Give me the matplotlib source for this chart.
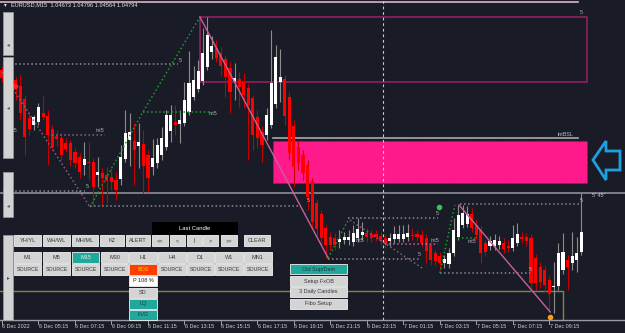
import numpy as np
import pandas as pd
import matplotlib
matplotlib.use("Agg")
import matplotlib.pyplot as plt
from matplotlib.patches import Rectangle, Polygon

plt.rcParams['font.family'] = ['Liberation Sans', 'DejaVu Sans']

# EURUSD M15 candles from 6 Dec 2022 03:15
opens = [1.05440, 1.05408, 1.05384, 1.05400, 1.05376, 1.05324, 1.05248, 1.05220, 1.05232, 1.05268,
         1.05256, 1.05204, 1.05176, 1.05168, 1.05148, 1.05148, 1.05112, 1.05092, 1.05060, 1.05072,
         1.05072, 1.05020, 1.05028, 1.05020, 1.05012, 1.05000, 1.05004, 1.05084, 1.05160, 1.05156,
         1.05136, 1.05144, 1.05100, 1.05052, 1.05068, 1.05100, 1.05132, 1.05196, 1.05232, 1.05224,
         1.05228, 1.05272, 1.05332, 1.05364, 1.05396, 1.05452, 1.05512, 1.05528, 1.05508, 1.05484,
         1.05448, 1.05396, 1.05404, 1.05392, 1.05368, 1.05328, 1.05252, 1.05192, 1.05180, 1.05220,
         1.05304, 1.05392, 1.05404, 1.05332, 1.05216, 1.05132, 1.05100, 1.05060, 1.04996, 1.04908,
         1.04864, 1.04808, 1.04772, 1.04768, 1.04752, 1.04760, 1.04760, 1.04752, 1.04768, 1.04780,
         1.04788, 1.04784, 1.04784, 1.04776, 1.04768, 1.04756, 1.04764, 1.04764, 1.04764, 1.04772,
         1.04780, 1.04784, 1.04780, 1.04768, 1.04740, 1.04708, 1.04696, 1.04668, 1.04664, 1.04708,
         1.04772, 1.04820, 1.04824, 1.04864, 1.04820, 1.04800, 1.04748, 1.04736, 1.04736, 1.04740,
         1.04748, 1.04736, 1.04728, 1.04748, 1.04772, 1.04772, 1.04768, 1.04688, 1.04652, 1.04640,
         1.04600, 1.04572, 1.04576, 1.04640, 1.04680, 1.04668, 1.04680, 1.04712]
highs = [1.05456, 1.05424, 1.05416, 1.05412, 1.05420, 1.05340, 1.05272, 1.05260, 1.05308, 1.05336,
         1.05280, 1.05220, 1.05200, 1.05188, 1.05168, 1.05160, 1.05128, 1.05108, 1.05152, 1.05152,
         1.05088, 1.05092, 1.05048, 1.05052, 1.05048, 1.05032, 1.05140, 1.05280, 1.05268, 1.05228,
         1.05228, 1.05200, 1.05120, 1.05164, 1.05168, 1.05212, 1.05280, 1.05300, 1.05300, 1.05280,
         1.05392, 1.05516, 1.05456, 1.05480, 1.05608, 1.05652, 1.05576, 1.05560, 1.05532, 1.05500,
         1.05472, 1.05468, 1.05432, 1.05428, 1.05384, 1.05340, 1.05280, 1.05216, 1.05288, 1.05600,
         1.05540, 1.05524, 1.05420, 1.05352, 1.05240, 1.05160, 1.05120, 1.05080, 1.05008, 1.04920,
         1.04880, 1.04820, 1.04792, 1.04788, 1.04800, 1.04792, 1.04800, 1.04820, 1.04848, 1.04832,
         1.04808, 1.04800, 1.04800, 1.04792, 1.04784, 1.04788, 1.04816, 1.04820, 1.04820, 1.04824,
         1.04808, 1.04800, 1.04800, 1.04784, 1.04752, 1.04720, 1.04712, 1.04700, 1.04728, 1.04848,
         1.04900, 1.04900, 1.04896, 1.04888, 1.04840, 1.04816, 1.04760, 1.04776, 1.04784, 1.04776,
         1.04768, 1.04760, 1.04820, 1.04828, 1.04792, 1.04788, 1.04784, 1.04704, 1.04672, 1.04656,
         1.04616, 1.04672, 1.04748, 1.04788, 1.04700, 1.04792, 1.04772, 1.04948]
lows = [1.05392, 1.05368, 1.05352, 1.05320, 1.05240, 1.05100, 1.05180, 1.05200, 1.05220, 1.05240,
        1.05060, 1.05120, 1.05136, 1.05080, 1.05112, 1.05056, 1.05048, 1.05008, 1.05020, 1.05000,
        1.04896, 1.04972, 1.04900, 1.04908, 1.04960, 1.04920, 1.04980, 1.05072, 1.05056, 1.04980,
        1.05048, 1.04948, 1.04952, 1.05020, 1.05048, 1.05080, 1.05120, 1.05152, 1.05180, 1.05148,
        1.05216, 1.05260, 1.05320, 1.05352, 1.05380, 1.05440, 1.05484, 1.05472, 1.05416, 1.05332,
        1.05268, 1.05320, 1.05292, 1.05288, 1.05080, 1.05120, 1.05128, 1.05072, 1.05160, 1.05208,
        1.05288, 1.05312, 1.05220, 1.05080, 1.04972, 1.05040, 1.05000, 1.04880, 1.04808, 1.04776,
        1.04740, 1.04688, 1.04720, 1.04720, 1.04728, 1.04744, 1.04740, 1.04736, 1.04752, 1.04760,
        1.04752, 1.04752, 1.04756, 1.04740, 1.04728, 1.04736, 1.04748, 1.04752, 1.04752, 1.04756,
        1.04760, 1.04756, 1.04732, 1.04668, 1.04660, 1.04656, 1.04640, 1.04648, 1.04648, 1.04696,
        1.04760, 1.04808, 1.04812, 1.04792, 1.04760, 1.04668, 1.04696, 1.04720, 1.04720, 1.04724,
        1.04708, 1.04712, 1.04716, 1.04736, 1.04748, 1.04736, 1.04552, 1.04560, 1.04568, 1.04552,
        1.04472, 1.04468, 1.04560, 1.04624, 1.04560, 1.04640, 1.04632, 1.04700]
closes = [1.05408, 1.05384, 1.05400, 1.05368, 1.05268, 1.05172, 1.05204, 1.05252, 1.05292, 1.05252,
          1.05180, 1.05132, 1.05164, 1.05100, 1.05124, 1.05080, 1.05068, 1.05032, 1.05084, 1.05068,
          1.04972, 1.05032, 1.05008, 1.04996, 1.04992, 1.04960, 1.05092, 1.05188, 1.05192, 1.05120,
          1.05152, 1.05056, 1.05008, 1.05088, 1.05140, 1.05168, 1.05260, 1.05260, 1.05220, 1.05240,
          1.05320, 1.05388, 1.05400, 1.05436, 1.05508, 1.05580, 1.05536, 1.05488, 1.05456, 1.05412,
          1.05352, 1.05408, 1.05372, 1.05340, 1.05300, 1.05180, 1.05168, 1.05140, 1.05260, 1.05388,
          1.05492, 1.05412, 1.05256, 1.05108, 1.05052, 1.05068, 1.05028, 1.04932, 1.04832, 1.04804,
          1.04768, 1.04740, 1.04740, 1.04740, 1.04764, 1.04772, 1.04772, 1.04788, 1.04804, 1.04792,
          1.04772, 1.04768, 1.04772, 1.04756, 1.04744, 1.04768, 1.04784, 1.04784, 1.04784, 1.04788,
          1.04776, 1.04772, 1.04748, 1.04716, 1.04680, 1.04676, 1.04668, 1.04684, 1.04708, 1.04800,
          1.04860, 1.04868, 1.04864, 1.04808, 1.04780, 1.04708, 1.04712, 1.04756, 1.04760, 1.04756,
          1.04724, 1.04728, 1.04768, 1.04784, 1.04764, 1.04756, 1.04588, 1.04588, 1.04592, 1.04580,
          1.04544, 1.04576, 1.04708, 1.04712, 1.04652, 1.04696, 1.04708, 1.04792]

# zones (bar from, bar to, price low, price high)
supply_box = (43.4, 128.3, 1.05392, 1.05652)
sd_zone = (59.4, 128.3, 1.04988, 1.05156)
bsl_level = 1.05168
range_line = 1.04948
olive_top, olive_right = 1.04556, 123.0
day_sep = 83.5

# structure lines: (bars, prices, colour, style)
green, mauve, grey, pink = '#1f9a2e', '#8e5a84', '#8a8a94', '#c8609e'
struct_lines = [
    ([0.2, 38.6], [1.05464, 1.05464], grey, ':'),
    ([19.3, 30.9, 43.4], [1.04892, 1.05272, 1.05652], green, ':'),
    ([30.9, 45.6], [1.05272, 1.05272], green, ':'),
    ([0.0, 19.3], [1.05432, 1.04892], mauve, ':'),
    ([11.0, 22.6], [1.05180, 1.05180], mauve, ':'),
    ([0.2, 18.2], [1.04956, 1.04956], grey, ':'),
    ([19.3, 65.4], [1.04896, 1.04896], grey, ':'),
    ([43.4, 71.5], [1.05652, 1.04688], pink, '-'),
    ([71.5, 75.9], [1.04688, 1.04840], green, ':'),
    ([75.9, 95.6], [1.04848, 1.04848], grey, ':'),
    ([76.3, 92.1], [1.04840, 1.04648], mauve, ':'),
    ([84.0, 95.6], [1.04744, 1.04744], pink, ':'),
    ([71.5, 91.7], [1.04684, 1.04684], grey, ':'),
    ([96.0, 115.8], [1.04628, 1.04628], grey, ':'),
    ([96.0, 99.3], [1.04628, 1.04900], green, ':'),
    ([100.0, 104.4], [1.04768, 1.04768], green, ':'),
    ([100.2, 120.2], [1.04900, 1.04472], pink, '-'),
    ([100.4, 126.8], [1.04904, 1.04904], grey, ':'),
]
struct_labels = [(39.0, 1.05476, '5'), (46.3, 1.05264, 'int5'), (21.5, 1.05196, 'int5'),
                 (18.6, 1.04972, '5'), (67.1, 1.04916, '5'), (95.4, 1.04864, '5'),
                 (94.9, 1.04756, 'int5'), (91.4, 1.04700, '5'), (115.8, 1.04640, '5'),
                 (103.1, 1.04752, 'int5'), (127.0, 1.04920, '5'), (127.0, 1.05668, '5'),
                 (78.5, 1.04756, 'int5'), (2.4, 1.05196, 'int5')]
pivots = [(95.8, 1.04892, '#2ecc40'), (120.2, 1.04452, '#f5a020'), (2.85, 1.05376, '#ff2020')]

BG = '#191c26'
W, H = 625, 333

fig = plt.figure(figsize=(6.25, 3.33), dpi=100, facecolor=BG)
ax = fig.add_axes([0, 13 / H, 1, 320 / H])
ax.set_facecolor(BG)
ax.set_xlim(-0.44, 136.6)
ax.set_ylim(1.0444, 1.0572)
ax.axis('off')

# zones
x0, x1, y0, y1 = sd_zone
ax.add_patch(Rectangle((x0, y0), x1 - x0, y1 - y0, facecolor='#ff1a8c', edgecolor='#c0106a',
                       lw=0.8, ls=':', zorder=1))
ax.plot([x0, 126.3], [bsl_level, bsl_level], color='#a8a8b0', lw=1.2, zorder=2)
ax.text(125.2, bsl_level + 0.00003, 'intBSL', color='#b8b8c0', fontsize=3.9, ha='right', va='bottom', zorder=6)
x0, x1, y0, y1 = supply_box
ax.add_patch(Rectangle((x0, y0), x1 - x0, y1 - y0, facecolor='none', edgecolor='#9c1f66', lw=1.1, zorder=2))
ax.plot([-0.44, 136.6], [range_line, range_line], color='#8e8e96', lw=1.2, zorder=2)
ax.plot([-0.44, olive_right, olive_right], [olive_top, olive_top, 1.0444], color='#7d8a3a', lw=1.0, zorder=2)
ax.plot([-0.44, 126.3], [1.05712, 1.05712], color='#e0b4c4', lw=1.2, zorder=2)
ax.axvline(day_sep, color='#c8c8cc', lw=0.8, ls=(0, (2.5, 2.5)), zorder=2)

# candles
o, h, l, c = map(np.array, (opens, highs, lows, closes))
idx = np.arange(len(o))
up = c >= o
ax.vlines(idx[up], l[up], h[up], color='#8c8c8c', lw=0.8, zorder=3)
ax.vlines(idx[~up], l[~up], h[~up], color='#c40000', lw=0.8, zorder=3)
body_lo = np.minimum(o, c)
body_h = np.maximum(np.abs(c - o), 0.00004)
ax.bar(idx[up], body_h[up], bottom=body_lo[up], width=0.68, color='white', lw=0, zorder=4)
ax.bar(idx[~up], body_h[~up], bottom=body_lo[~up], width=0.68, color='#ff0000', lw=0, zorder=4)

# structure
for xs, ys, col, st in struct_lines:
    ax.plot(xs, ys, color=col, lw=1.0 if st == '-' else 1.1, ls=st, zorder=5)
for bx, py, txt in struct_labels:
    ax.text(bx, py, txt, color='#b4b4bc', fontsize=3.8, ha='center', va='center', zorder=6)
for bx, py, col in pivots:
    ax.scatter([bx], [py], s=16, color=col, zorder=6, linewidths=0)

# time axis
times = pd.date_range('2022-12-06 03:15', periods=len(o), freq='15min')
tr = ax.get_xaxis_transform()
for i in range(0, len(o), 8):
    t = times[i]
    lab = '6 Dec 2022' if i == 0 else f'{t.day} Dec {t:%H:%M}'
    ax.plot([i, i], [0, -0.011], color='#a0a0a8', lw=0.7, transform=tr, clip_on=False)
    ax.text(i + 0.1, -0.019, lab, color='#d0d0d6', fontsize=3.9, ha='left', va='center',
            transform=tr, clip_on=False)
fig.add_artist(plt.Line2D([0, 1], [13 / H, 13 / H], color='#9a9aa2', lw=1.0))


def fx(x):
    return x / W


def fy(y):
    return 1 - y / H


def box(x0, y0, x1, y1, bg, ec='#f2f2f2', lw=0.6):
    fig.add_artist(Rectangle((fx(x0), fy(y1)), (x1 - x0) / W, (y1 - y0) / H,
                             transform=fig.transFigure, facecolor=bg, edgecolor=ec, lw=lw, zorder=10))


def button(x0, y0, x1, y1, label, bg='#d4d4d4', fg='#383838', size=4.0):
    box(x0, y0, x1, y1, bg)
    fig.text(fx((x0 + x1) / 2), fy((y0 + y1) / 2), label, color=fg, fontsize=size,
             ha='center', va='center', zorder=11)


# header
fig.text(fx(4), fy(5), '\u25be', color='#e8e8e8', fontsize=4.0, va='center', zorder=11,
         family='DejaVu Sans')
fig.text(fx(11), fy(5), 'EURUSD,M15  1.04673 1.04796 1.04564 1.04794', color='#e6e6ea',
         fontsize=4.1, va='center', zorder=11)

# left strip
for y0, y1, glyph in [(12, 55, '\u25c2'), (57, 158, '\u25c2'), (172, 217, '\u25c2'), (235, 320, '\u25b8')]:
    box(3, y0, 13, y1, '#d2d2d2', ec='#9a9a9a', lw=0.5)
    fig.text(fx(8), fy(y0 + 0.75 * (y1 - y0) if glyph == '\u25c2' and y1 - y0 < 60 else (y0 + y1) / 2),
             glyph, color='#505050', fontsize=4, ha='center', va='center', zorder=11, family='DejaVu Sans')

# button panel
box(152, 222, 237, 234, '#000000', ec='#000000')
fig.text(fx(194.5), fy(228), 'Last Candle', color='white', fontsize=4.2, ha='center', va='center', zorder=11)
row1 = [(14, 41, 'YH/YL'), (43, 70, 'WH/WL'), (72, 98, 'MH/ML'), (100, 124, 'KZ'), (126, 150, 'ALERT'),
        (152, 168, '<<'), (170, 185, '<'), (187, 202, '|'), (203, 218, '>'), (221, 237, '>>'),
        (244, 270, 'CLEAR')]
for a, b, t in row1:
    button(a, 235, b, 246, t)
tfs = ['M1', 'M5', 'M15', 'M30', 'H1', 'H4', 'D1', 'W1', 'MN1']
tf_x = [(14, 41), (43, 70), (72, 99), (101, 128), (129, 157), (158, 186), (187, 214), (215, 243), (244, 272)]
for (a, b), t in zip(tf_x, tfs):
    if t == 'M15':
        button(a, 252, b, 263, t, bg='#1fa89b', fg='#e4f4f2')
    else:
        button(a, 252, b, 263, t)
    if t == 'H1':
        button(a, 264, b, 275, 'BOS', bg='#ff3d00', fg='#ffc800')
    else:
        button(a, 264, b, 275, 'SOURCE', size=3.8)
button(129, 276, 157, 286, 'P 108 %', bg='#ffffff', fg='#202020')
button(129, 288, 157, 298, 'SD')
button(129, 299, 157, 309, 'LQ', bg='#1fa89b', fg='#204040')
button(129, 310, 157, 320, 'FVG', bg='#1fa89b', fg='#204040')
button(290, 264, 347, 274, 'Old Sup/Dem', bg='#1fa89b', fg='#1c3a3a')
button(290, 276, 347, 286, 'Setup FxOB')
button(290, 287, 347, 297, '3 Daily Candles')
button(290, 299, 347, 309, 'Fibo Setup')

# blue arrow and timer
arrow = [(593, 160), (606, 141), (606, 151), (620, 151), (620, 170), (606, 170), (606, 180)]
fig.add_artist(Polygon([(fx(a), fy(b)) for a, b in arrow], closed=True, transform=fig.transFigure,
                       facecolor='none', edgecolor='#1e9fe0', lw=2.0, zorder=10))
fig.text(fx(592), fy(196), "5' 45\"", color='#c8c8d0', fontsize=3.9, va='center', zorder=11)

fig.savefig('out.png', dpi=100, facecolor=BG)
